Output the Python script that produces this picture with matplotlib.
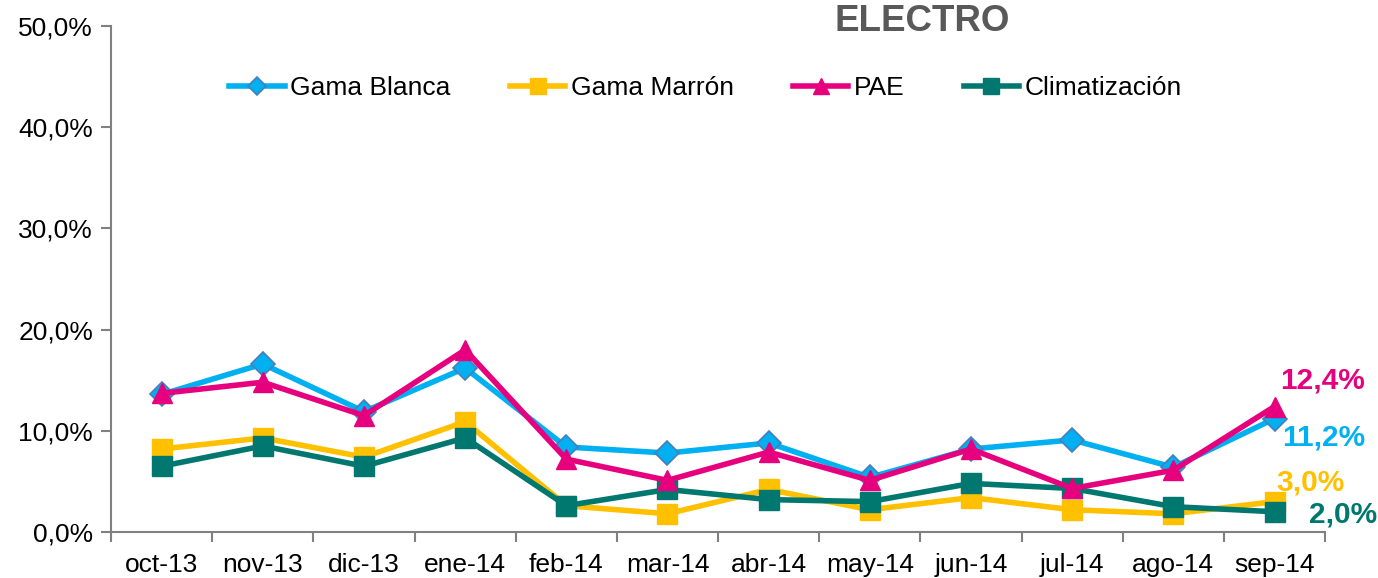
import numpy as np
import matplotlib
matplotlib.use("Agg")
import matplotlib.pyplot as plt
from matplotlib.ticker import FuncFormatter

plt.rcParams['font.family'] = ['Liberation Sans', 'DejaVu Sans']

# datos (%)
meses = ["oct-13", "nov-13", "dic-13", "ene-14", "feb-14", "mar-14",
         "abr-14", "may-14", "jun-14", "jul-14", "ago-14", "sep-14"]
gama_blanca = [13.6, 16.6, 11.9, 16.2, 8.4, 7.8, 8.8, 5.4, 8.2, 9.1, 6.4, 11.2]
gama_marron = [8.2, 9.3, 7.4, 10.9, 2.6, 1.8, 4.2, 2.2, 3.4, 2.2, 1.8, 3.0]
pae = [13.7, 14.8, 11.5, 18.0, 7.2, 5.1, 7.9, 5.1, 8.2, 4.3, 6.1, 12.4]
climatizacion = [6.5, 8.5, 6.5, 9.3, 2.6, 4.2, 3.2, 3.0, 4.8, 4.3, 2.5, 2.0]

c_blanca = "#00B0F0"
c_marron = "#FFC000"
c_pae = "#E6007E"
c_clima = "#00776F"

fig = plt.figure(figsize=(13.78, 5.78), dpi=100)
ax = fig.add_axes([0.0806, 0.0796, 0.881, 0.8754])

x = np.arange(len(meses))
ax.plot(x, gama_blanca, color=c_blanca, lw=4, marker="D", ms=12,
        mfc=c_blanca, mec="#4A7EBB", mew=1.2, label="Gama Blanca", zorder=3)
ax.plot(x, gama_marron, color=c_marron, lw=4, marker="s", ms=14,
        mfc=c_marron, mec=c_marron, label="Gama Marrón", zorder=2)
ax.plot(x, pae, color=c_pae, lw=4, marker="^", ms=14,
        mfc=c_pae, mec=c_pae, label="PAE", zorder=4)
ax.plot(x, climatizacion, color=c_clima, lw=4, marker="s", ms=14,
        mfc=c_clima, mec=c_clima, label="Climatización", zorder=3)

# etiquetas del ultimo mes
last = len(meses) - 1
for serie, col, off in [(pae, c_pae, (48, 26)), (gama_blanca, c_blanca, (49, -19)),
                        (gama_marron, c_marron, (36, 19)), (climatizacion, c_clima, (69, -3))]:
    ax.annotate(f"{serie[last]:.1f}%".replace(".", ","), (x[last], serie[last]),
                xytext=off, textcoords="offset pixels", ha="center", va="center",
                fontsize=21.5, fontweight="bold", color=col)

ax.set_xlim(-0.5, len(meses) - 0.5)
ax.set_ylim(0, 50)
ax.set_yticks(np.arange(0, 51, 10))
ax.yaxis.set_major_formatter(FuncFormatter(lambda v, p: f"{v:.1f}%".replace(".", ",")))
ax.set_xticks(x)
ax.set_xticklabels(meses)
ax.set_xticks(np.arange(-0.5, len(meses), 1), minor=True)
ax.tick_params(axis="x", which="major", length=0, pad=15, labelsize=19)
ax.tick_params(axis="x", which="minor", length=7, color="#808080", width=1.5)
ax.tick_params(axis="y", length=7, color="#808080", width=1.5, labelsize=19, pad=6)

for s in ["top", "right"]:
    ax.spines[s].set_visible(False)
for s in ["left", "bottom"]:
    ax.spines[s].set_color("#808080")
    ax.spines[s].set_linewidth(1.5)

fig.text(0.669, 0.962, "ELECTRO", ha="center", va="center", fontsize=26.5,
         fontweight="bold", color="#595959")

fig.legend(loc="center", bbox_to_anchor=(0.512, 0.848), ncol=4, frameon=False,
           fontsize=19, handlelength=2.1, handletextpad=0.2, columnspacing=2.25,
           markerscale=0.8)

fig.savefig("out.png", dpi=100)
